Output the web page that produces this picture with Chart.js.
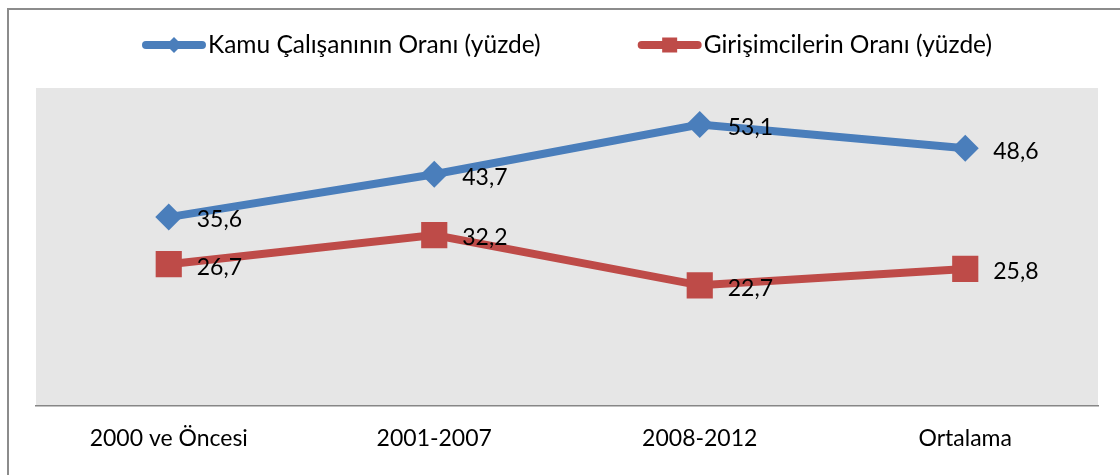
<!DOCTYPE html>
<html>
<head>
<meta charset="utf-8">
<script src="https://cdn.jsdelivr.net/npm/chart.js@4.4.0/dist/chart.umd.min.js"></script>
<style>
  html, body { margin: 0; padding: 0; background: #fff; }
  #wrap { width: 1120px; height: 475px; }
</style>
</head>
<body>
<div id="wrap"><canvas id="chart"></canvas></div>
<script>
const categories = ["2000 ve Öncesi", "2001-2007", "2008-2012", "Ortalama"];
const kamuValues = [35.6, 43.7, 53.1, 48.6];
const girisimciValues = [26.7, 32.2, 22.7, 25.8];
const seriesNames = ["Kamu Çalışanının Oranı (yüzde)", "Girişimcilerin Oranı (yüzde)"];

const blue = '#4a7ebb';
const red = '#be4b48';
const fontFamily = 'Lato, "Open Sans", sans-serif';
const fontSize = 23;

// frame round the chart and grey plot area
const backdrop = {
  id: 'backdrop',
  beforeDraw(chart) {
    const ctx = chart.ctx, a = chart.chartArea;
    ctx.save();
    ctx.strokeStyle = '#8c8c8c';
    ctx.lineWidth = 2;
    ctx.strokeRect(8, 9, chart.width + 20, chart.height + 20);
    ctx.fillStyle = '#e6e6e6';
    ctx.fillRect(a.left, a.top, a.right - a.left, a.bottom - a.top);
    ctx.restore();
  }
};

// value labels right of each point
const pointLabels = {
  id: 'pointLabels',
  afterDatasetsDraw(chart) {
    const ctx = chart.ctx;
    ctx.save();
    ctx.font = fontSize + 'px ' + fontFamily;
    ctx.fillStyle = '#000';
    ctx.textBaseline = 'middle';
    chart.data.datasets.forEach((ds, i) => {
      chart.getDatasetMeta(i).data.forEach((pt, j) => {
        ctx.fillText(ds.data[j].toFixed(1).replace('.', ','), pt.x + 28, pt.y + 3);
      });
    });
    ctx.restore();
  }
};

function drawMarker(ctx, style, x, y, r) {
  ctx.beginPath();
  if (style === 'rectRot') {
    ctx.moveTo(x - r, y); ctx.lineTo(x, y - r); ctx.lineTo(x + r, y); ctx.lineTo(x, y + r);
  } else {
    ctx.rect(x - r, y - r, 2 * r, 2 * r);
  }
  ctx.closePath();
  ctx.fill();
}

// legend: line with marker, then text
const lineLegend = {
  id: 'lineLegend',
  afterDraw(chart) {
    const ctx = chart.ctx;
    const iconW = 64, textGap = 2, itemGap = 97, cy = 45;
    ctx.save();
    ctx.font = '24.5px ' + fontFamily;
    ctx.textBaseline = 'middle';
    const widths = chart.data.datasets.map(ds => iconW + textGap + ctx.measureText(ds.label).width);
    const total = widths.reduce((s, w) => s + w, 0) + itemGap * (widths.length - 1);
    let x = 567 - total / 2;
    chart.data.datasets.forEach((ds, i) => {
      ctx.strokeStyle = ds.borderColor;
      ctx.fillStyle = ds.borderColor;
      ctx.lineWidth = 8;
      ctx.lineCap = 'round';
      ctx.beginPath();
      ctx.moveTo(x + 4, cy);
      ctx.lineTo(x + iconW - 4, cy);
      ctx.stroke();
      drawMarker(ctx, ds.pointStyle, x + iconW / 2, cy, ds.pointStyle === 'rectRot' ? 8 : 7.5);
      ctx.fillStyle = '#000';
      ctx.fillText(ds.label, x + iconW + textGap, cy);
      x += widths[i] + itemGap;
    });
    ctx.restore();
  }
};

new Chart(document.getElementById('chart'), {
  type: 'line',
  data: {
    labels: categories,
    datasets: [
      {
        label: seriesNames[0],
        data: kamuValues,
        borderColor: blue,
        backgroundColor: blue,
        borderWidth: 8,
        pointStyle: 'rectRot',
        pointRadius: 13.5,
        pointBorderWidth: 0,
        pointBackgroundColor: blue
      },
      {
        label: seriesNames[1],
        data: girisimciValues,
        borderColor: red,
        backgroundColor: red,
        borderWidth: 8,
        pointStyle: 'rect',
        pointRadius: 18.5,
        pointBorderWidth: 0,
        pointBackgroundColor: red
      }
    ]
  },
  options: {
    responsive: true,
    maintainAspectRatio: false,
    animation: false,
    layout: { padding: { left: 36, right: 22, top: 88, bottom: 4 } },
    plugins: {
      legend: { display: false },
      tooltip: { enabled: false }
    },
    scales: {
      x: {
        offset: true,
        grid: { display: false, drawTicks: false, offset: true },
        border: { color: '#868686', width: 1.5 },
        ticks: { color: '#000', font: { family: fontFamily, size: fontSize }, padding: 19 }
      },
      y: { display: false, min: 0, max: 60 }
    }
  },
  plugins: [backdrop, pointLabels, lineLegend]
});
</script>
</body>
</html>
